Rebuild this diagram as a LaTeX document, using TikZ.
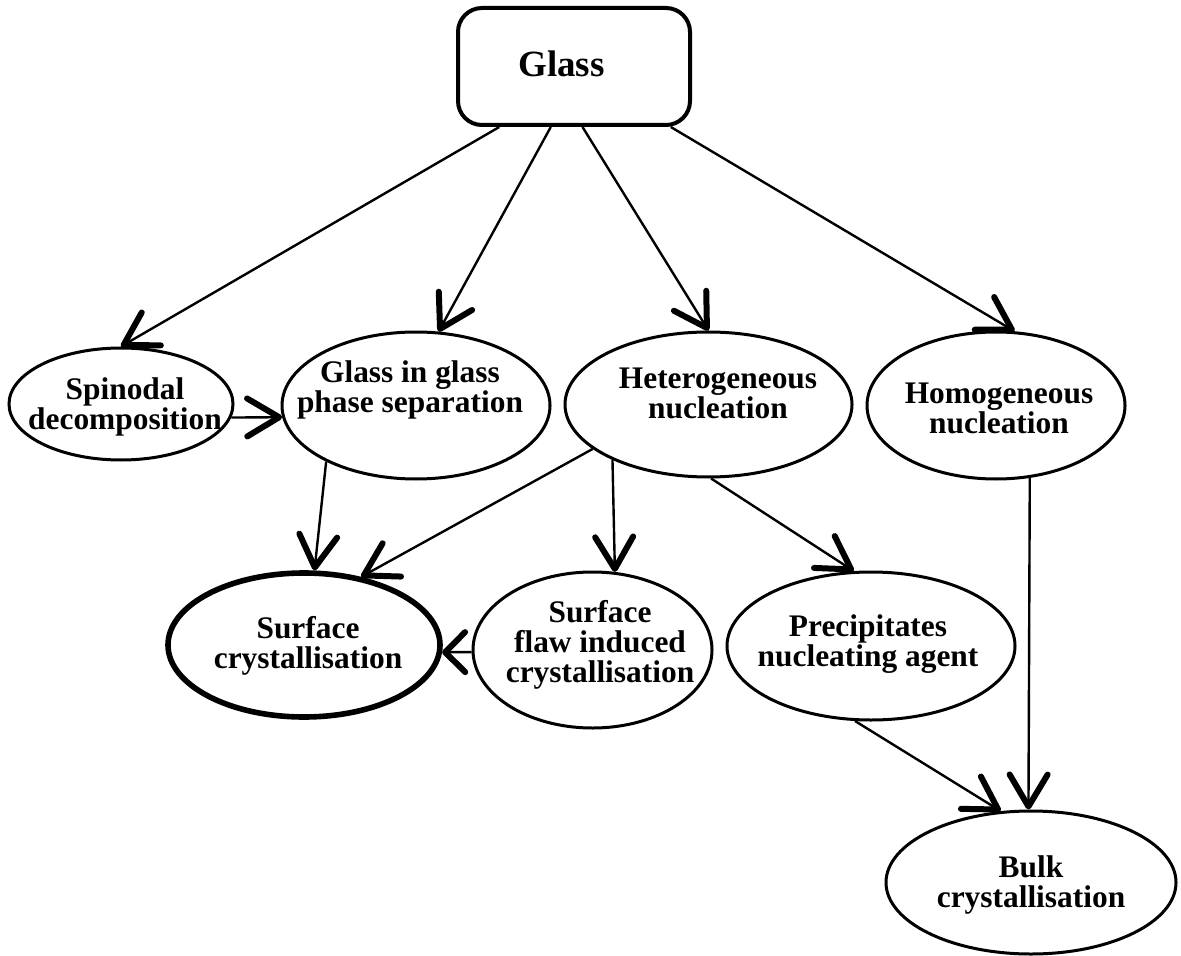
\documentclass[tikz,border=0pt]{standalone}
\usepackage{fontspec}
\setmainfont{Liberation Serif}
\usetikzlibrary{arrows.meta, shapes.geometric}

\begin{document}
\begin{tikzpicture}[x=0.5pt, y=-0.5pt,
    stage/.style={draw, ellipse, line width=1.5pt, inner sep=0pt},
    stagetxt/.style={font=\bfseries\fontsize{15.7}{15}\selectfont, align=center, inner sep=0pt},
    flow/.style={line width=1.2pt, -{Straight Barb[length=16pt, width=19pt, line width=3pt, round]}},
    shortflow/.style={flow, -{Straight Barb[length=10pt, width=20pt, line width=3pt, round]}}]
    \useasboundingbox (0,0) rectangle (1181,956);

    % Glass (top box)
    \node[draw, rounded corners=12pt, line width=2pt, inner sep=0pt, minimum width=116pt, minimum height=58.5pt] (glass) at (574,66.5) {};
    \node[font=\bfseries\fontsize{18.5}{20}\selectfont, inner sep=0pt] (glass-txt) at (561.5,64) {Glass};

    % First row
    \node[stage, minimum width=112pt, minimum height=56pt] (spin) at (121,404) {};
    \node[stagetxt] (spin-txt) at (125,407) {Spinodal\\decomposition};

    \node[stage, minimum width=134pt, minimum height=73.5pt] (glassin) at (416,405.5) {};
    \node[stagetxt] (glassin-txt) at (410,389.5) {Glass in glass\\phase separation};

    \node[stage, minimum width=143.5pt, minimum height=72.5pt] (hetero) at (708.5,404.5) {};
    \node[stagetxt] (hetero-txt) at (718,393.5) {Heterogeneous\\nucleation};

    \node[stage, minimum width=129pt, minimum height=73.5pt] (homo) at (996,405.5) {};
    \node[stagetxt] (homo-txt) at (999,408) {Homogeneous\\nucleation};

    % Second row
    \node[stage, line width=2.8pt, minimum width=136pt, minimum height=72pt] (surf) at (304,645) {};
    \node[stagetxt] (surf-txt) at (308,645.5) {Surface\\crystallisation};

    \node[stage, minimum width=119.5pt, minimum height=78pt] (flaw) at (592.5,650) {};
    \node[stagetxt] (flaw-txt) at (600,644.5) {Surface\\flaw induced\\crystallisation};

    \node[stage, minimum width=144pt, minimum height=74pt] (precip) at (871,646) {};
    \node[stagetxt] (precip-txt) at (868,644.5) {Precipitates\\nucleating agent};

    % Bulk
    \node[stage, minimum width=145pt, minimum height=71.5pt] (bulk) at (1031,882.5) {};
    \node[stagetxt] (bulk-txt) at (1031,884.5) {Bulk\\crystallisation};

    % Arrows from the glass
    \draw[flow] (glass.-141) -- (spin.north);
    \draw[flow] (glass.-111) -- (glassin.73);
    \draw[flow] (glass.-82) -- (hetero.north);
    \draw[flow] (glass.-32) -- (homo.76);

    % Arrows between stages
    \draw[flow] (spin.-7) -- (glassin.185);
    \draw[flow] (glassin.-148) -- (surf.82);
    \draw[flow] (hetero.-159) -- (surf.50);
    \draw[flow] (hetero.-150) -- (flaw.74);
    \draw[flow] (hetero.-88) -- (precip.103);
    \draw[shortflow] (flaw.181) -- (surf.-3);
    \draw[flow] (precip.-102) -- (bulk.113);
    \draw[flow] (homo.-65) -- (bulk.92);
\end{tikzpicture}
\end{document}
